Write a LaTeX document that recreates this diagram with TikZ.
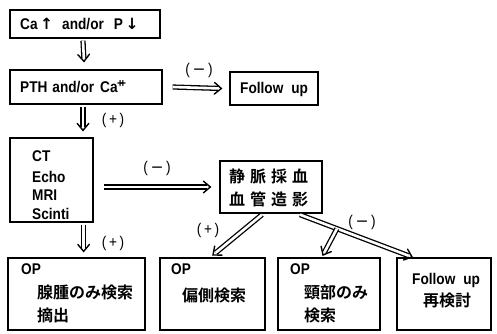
\documentclass[tikz,border=0pt]{standalone}
\usepackage{fontspec}
\setmainfont{Liberation Sans}[FakeStretch=0.88]
\newfontfamily\jp{Noto Sans CJK JP}[BoldFont={* Bold}]
\newfontfamily\sym{DejaVu Sans}
\usetikzlibrary{calc}
\newcommand\darrow[2]{%
  \draw[dblline] (#1) -- ($(#2)!3.5pt!(#1)$);
  \draw[dblhead] ($(#2)!9pt!40:(#1)$) -- (#2) -- ($(#2)!9pt!-40:(#1)$);}
\begin{document}
\begin{tikzpicture}[x=1pt,y=-1pt,
  every node/.style={font=\fontsize{15.5}{17}\selectfont\bfseries},
  box/.style={draw, line width=1.3pt, inner sep=0pt},
  txt/.style={inner sep=0pt, anchor=west},
  jtxt/.style={inner sep=0pt, anchor=west, font=\fontsize{16}{18}\selectfont\jp\bfseries},
  lab/.style={inner sep=0pt, font=\fontsize{15.5}{17}\selectfont},
  dblline/.style={double, double distance=2.6pt, line width=1.3pt},
  dblhead/.style={line width=1.4pt, line cap=round, line join=miter}]
\useasboundingbox (0,0) rectangle (497,333);
% boxes
\node[box, minimum width=150pt, minimum height=28pt] (b1) at (85,24) {};
\node[box, minimum width=152pt, minimum height=34pt] (b2) at (86,87) {};
\node[box, minimum width=88pt, minimum height=33pt] (fu) at (274,88.5) {};
\node[box, minimum width=83pt, minimum height=84pt] (b3) at (51.5,180) {};
\node[box, minimum width=102pt, minimum height=52pt] (b4) at (271,187) {};
\node[box, minimum width=137pt, minimum height=72pt] (b5) at (76.5,294) {};
\node[box, minimum width=105pt, minimum height=72pt] (b6) at (212.5,294) {};
\node[box, minimum width=102pt, minimum height=72pt] (b7) at (329,294) {};
\node[box, minimum width=94pt, minimum height=72pt] (b8) at (444,294) {};
% texts
\node[txt] (t1) at (20,24) {Ca\,{\sym↑}\hspace{9pt}and/or\hspace{10pt}P\,{\sym↓}};
\node[txt] (t2) at (20,87) {PTH\hspace{5pt}and/or\hspace{6pt}Ca\textsuperscript{\fontsize{12}{12}\selectfont\kern-0.5pt+\kern-3.5pt+}};
\node[txt] (t3) at (240,89) {Follow\hspace{8pt}up};
\node[txt] (t4a) at (32,156) {CT};
\node[txt] (t4b) at (32,177) {Echo};
\node[txt] (t4c) at (32,195) {MRI};
\node[txt] (t4d) at (32,214) {Scinti};
\node[jtxt] (t5a) at (229,176) {静\hspace{5pt}脈\hspace{5pt}採\hspace{5pt}血};
\node[jtxt] (t5b) at (229,199) {血\hspace{5pt}管\hspace{5pt}造\hspace{5pt}影};
\node[txt] (t6a) at (21,269) {OP};
\node[jtxt] (t6b) at (37,292) {腺腫のみ検索};
\node[jtxt] (t6c) at (37,315) {摘出};
\node[txt] (t7a) at (171,269) {OP};
\node[jtxt] (t7b) at (182,295) {偏側検索};
\node[txt] (t8a) at (290,269) {OP};
\node[jtxt] (t8b) at (304,292) {頸部のみ};
\node[jtxt] (t8c) at (304,315) {検索};
\node[txt] (t9a) at (412,280) {Follow\hspace{8pt}up};
\node[jtxt] (t9b) at (423,300) {再検討};
% connector end points
\coordinate (a1s) at ([xshift=-2pt,yshift=-2pt]b1.south);
\coordinate (a1e) at ([xshift=-2pt,yshift=8pt]b2.north);
\coordinate (a2s) at ([xshift=10pt]b2.east);
\coordinate (a2e) at ([xshift=-8pt]fu.west);
\coordinate (a3s) at ([xshift=-3pt,yshift=-2pt]b2.south);
\coordinate (a3e) at ([xshift=-3pt,yshift=7pt]b2.south |- b3.north);
\coordinate (a4s) at ([xshift=10pt]b3.east |- b4.center);
\coordinate (a4e) at ([xshift=-9pt]b4.west);
\coordinate (a5s) at ([xshift=-10pt,yshift=-2pt]b3.south east);
\coordinate (a5e) at ([xshift=-10pt,yshift=6pt]b3.south east |- b5.north);
\coordinate (a6s) at ([xshift=-9pt,yshift=-1pt]b4.south);
\coordinate (a6e) at (213,255);
\coordinate (a7s) at ([xshift=29pt,yshift=-1pt]b4.south);
\coordinate (a7e) at (412,257);
\coordinate (br) at ($(a7s)!0.33!(a7e)$);
\coordinate (a8e) at (323,255);
% connectors
\darrow{a1s}{a1e}
\darrow{a2s}{a2e}
\darrow{a3s}{a3e}
\darrow{a4s}{a4e}
\darrow{a5s}{a5e}
\darrow{a6s}{a6e}
\darrow{a7s}{a7e}
\darrow{br}{a8e}
% labels
\node[lab] (l1) at (199,70) {(\,{\sym−}\,)};
\node[lab] (l2) at (113,120) {(\,+\,)};
\node[lab] (l3) at (157,168) {(\,{\sym−}\,)};
\node[lab] (l4) at (113,243) {(\,+\,)};
\node[lab] (l5) at (208,230) {(\,+\,)};
\node[lab] (l6) at (362,222) {(\,{\sym−}\,)};
\end{tikzpicture}
\end{document}
